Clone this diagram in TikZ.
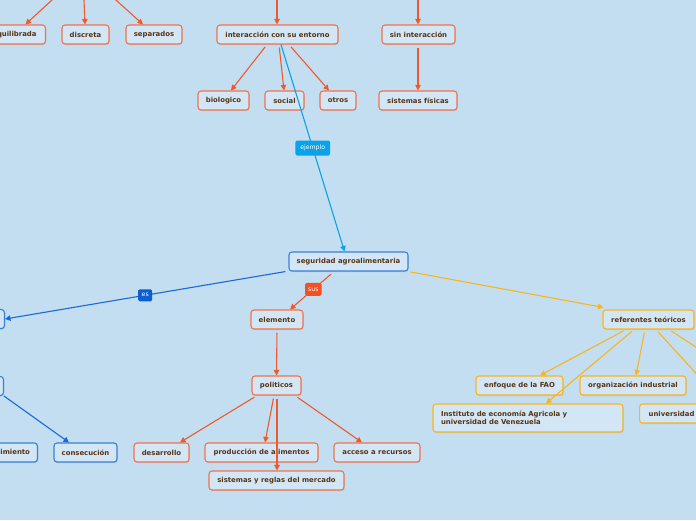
\documentclass[tikz,border=0pt]{standalone}
\usepackage{fontspec}
\setmainfont{DejaVu Sans}
\usetikzlibrary{arrows.meta,shadows}
\definecolor{bg}{HTML}{C3DEF1}
\definecolor{nfill}{HTML}{D3E6F5}
\definecolor{ntext}{HTML}{553516}
\definecolor{orangeC}{HTML}{F0592A}
\definecolor{yellowC}{HTML}{F9B51A}
\definecolor{blueC}{HTML}{1D68D8}
\definecolor{bborder}{HTML}{3A80DA}
\definecolor{cyanC}{HTML}{0AA3EA}
\definecolor{labblue}{HTML}{0B5FD2}
\definecolor{labor}{HTML}{F55022}
\begin{document}
\begin{tikzpicture}[x=1pt,y=-1pt,
  box/.style={draw, rounded corners=3pt, fill=nfill, line width=1.1pt, minimum height=19pt, inner sep=0pt,
    font=\fontsize{6.9}{8.4}\selectfont\bfseries, text=ntext,
    drop shadow={shadow xshift=0.6pt,shadow yshift=-1.2pt,opacity=0.2}},
  obox/.style={box, draw=orangeC!85!white},
  bbox/.style={box, draw=bborder},
  ybox/.style={box, draw=yellowC},
  tip/.style={-{Triangle[length=5.5pt,width=5.5pt]}},
  oarrow/.style={tip, draw=orangeC, line width=1.1pt, shorten <=3pt},
  yarrow/.style={tip, draw=yellowC, line width=1.1pt, shorten <=3pt},
  barrow/.style={tip, draw=blueC, line width=1.1pt},
  lab/.style={rounded corners=1.5pt, text=white, font=\fontsize{6.2}{7}\selectfont, inner xsep=3.5pt, inner ysep=0pt, minimum height=13pt}
]
\useasboundingbox (0,0) rectangle (696,520);
\fill[bg] (0,0) rectangle (696,520);
\clip (0,0) rectangle (696,520);

% free ends (parents off the picture)
\coordinate (pa) at (57.4,-5);
\coordinate (pb) at (83.8,-5);
\coordinate (pc) at (110.4,-5);
\coordinate (pd) at (277,-5);
\coordinate (pe) at (418,-5);
\coordinate (offr) at (725,366);

% top row
\node[obox, minimum width=62pt, anchor=east] (equil) at (46,34.5) {equilibrada};
\node[obox, minimum width=47pt] (discreta) at (85.5,34.5) {discreta};
\node[obox, minimum width=56pt] (separados) at (154,34.5) {separados};
\node[obox, minimum width=121pt] (inter) at (277.5,34.5) {interacción con su entorno};
\node[obox, minimum width=73pt] (sinint) at (418.5,34.5) {sin interacción};

% second row
\node[obox, minimum width=51pt] (bio) at (223.5,100.5) {biologico};
\node[obox, minimum width=39pt] (social) at (284.5,100.5) {social};
\node[obox, minimum width=36pt] (otros) at (338,100.5) {otros};
\node[obox, minimum width=78pt] (sisfis) at (418,100.5) {sistemas físicas};

% centre
\node[bbox, minimum width=119pt] (seg) at (348.5,261.5) {seguridad agroalimentaria};

% left (blue)
\node[bbox, minimum width=40pt, anchor=east] (left1) at (5,319) {};
\node[bbox, minimum width=40pt, anchor=east] (left2) at (4,386) {};
\node[bbox, minimum width=68pt, anchor=east] (cumpl) at (38,452.5) {cumplimiento};
\node[bbox, minimum width=63pt] (consec) at (85.5,452.5) {consecución};

% orange branch
\node[obox, minimum width=52pt] (elem) at (277,319.5) {elemento};
\node[obox, minimum width=49pt] (pol) at (276.5,385.5) {politicos};
\node[obox, minimum width=55pt] (desa) at (161.5,452.5) {desarrollo};
\node[obox, minimum width=113pt] (prod) at (261.5,452.5) {producción de alimentos};
\node[obox, minimum width=86pt] (acceso) at (377,452.5) {acceso a recursos};
\node[obox, minimum width=135pt] (sistreg) at (276.5,480.5) {sistemas y reglas del mercado};

% yellow branch
\node[ybox, minimum width=91pt] (ref) at (648.5,319.5) {referentes teóricos};
\node[ybox, minimum width=87pt] (fao) at (519.5,385.5) {enfoque de la FAO};
\node[ybox, minimum width=106pt] (org) at (633,385.5) {organización industrial};
\node[ybox, minimum width=190pt, minimum height=28pt, align=left, text width=174pt] (inst) at (528,418) {Instituto de economía Agricola y\\universidad de Venezuela};
\node[ybox, minimum width=64pt, anchor=west] (univ) at (639,413.5) {universidad};

% connectors: top
\draw[oarrow, shorten <=0pt] (pa) -- ([xshift=11pt]equil.north);
\draw[oarrow, shorten <=0pt] (pb) -- ([xshift=-0.5pt]discreta.north);
\draw[oarrow, shorten <=0pt] (pc) -- ([xshift=-11pt]separados.north);
\draw[oarrow, shorten <=0pt] (pd) -- ([xshift=-0.5pt]inter.north);
\draw[oarrow, shorten <=0pt] (pe) -- ([xshift=-0.5pt]sinint.north);

\draw[oarrow] ([xshift=-10.5pt]inter.south) -- ([xshift=7.5pt]bio.north);
\draw[oarrow] ([xshift=1.5pt]inter.south) -- ([xshift=-0.5pt]social.north);
\draw[oarrow] ([xshift=11.5pt]inter.south) -- ([xshift=-9pt]otros.north);
\draw[oarrow] ([xshift=-0.5pt]sinint.south) -- (sisfis.north);

% ejemplo
\draw[tip, draw=cyanC, line width=1.1pt] ([xshift=3.5pt]inter.south) -- node[lab, fill=cyanC, minimum height=15pt, inner xsep=5pt] {ejemplo} ([xshift=-4pt]seg.north);

% es
\draw[barrow] ([xshift=-3pt]seg.south west) -- node[lab, fill=labblue, minimum height=12pt, inner xsep=3.5pt] {es} (left1.east);
\draw[barrow] (left2.south east) -- ([xshift=-16.5pt]consec.north);

% sus
\draw[oarrow, shorten <=4pt] ([xshift=-14.5pt]seg.south) -- node[lab, fill=labor, pos=0.47, inner xsep=3pt] {sus} ([xshift=13pt]elem.north);
\draw[oarrow] (elem.south) -- (pol.north);
\draw[oarrow] ([xshift=-19.5pt]pol.south) -- ([xshift=18.5pt]desa.north);
\draw[oarrow] ([xshift=-2.5pt]pol.south) -- ([xshift=3.5pt]prod.north);
\draw[oarrow] ([xshift=0.5pt]pol.south) -- ([xshift=0.5pt]sistreg.north);
\draw[oarrow] ([xshift=18.5pt]pol.south) -- ([xshift=-15pt]acceso.north);

% yellow
\draw[yarrow, shorten <=2pt] (seg.south east) -- ([yshift=2pt,xshift=1pt]ref.north west);
\draw[yarrow] ([xshift=-22.5pt]ref.south) -- ([xshift=20.5pt]fao.north);
\draw[yarrow] ([xshift=-14.5pt]ref.south) -- ([xshift=18pt]inst.north);
\draw[yarrow] ([xshift=-3.5pt]ref.south) -- ([xshift=3pt]org.north);
\draw[yarrow] ([xshift=7.5pt]ref.south) -- ([xshift=52pt]univ.north);
\draw[yarrow] ([xshift=20.5pt]ref.south) -- (offr);
\end{tikzpicture}
\end{document}
